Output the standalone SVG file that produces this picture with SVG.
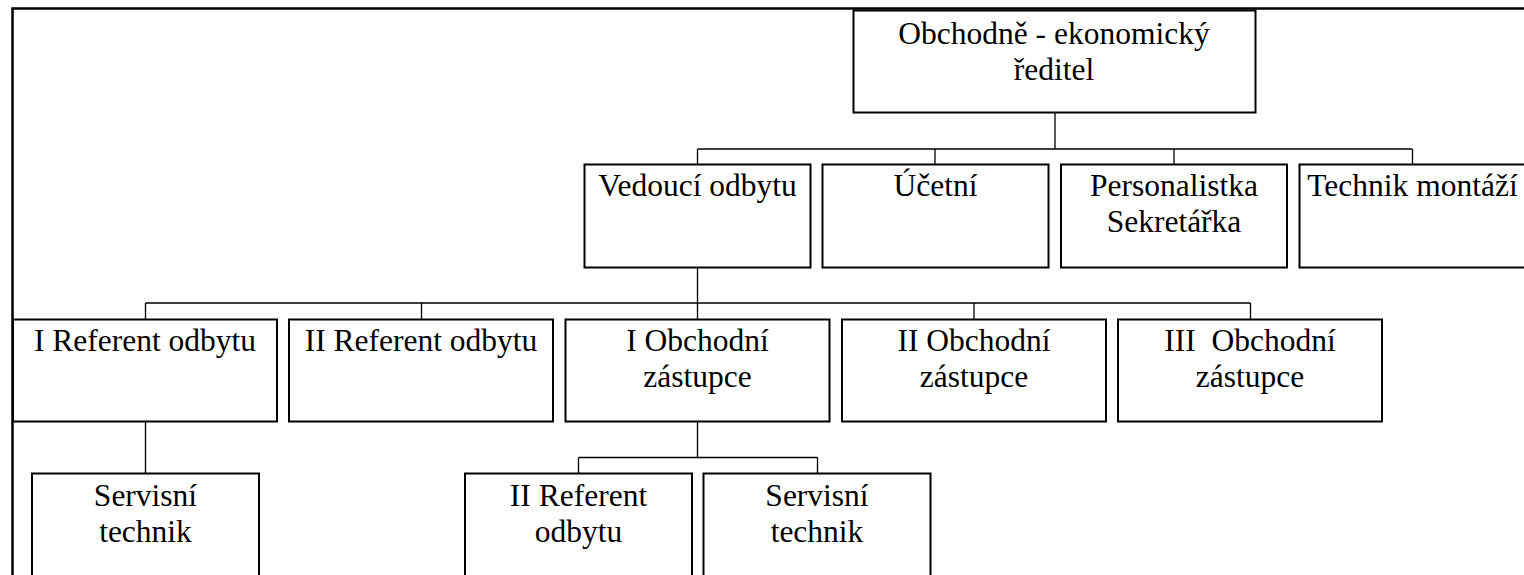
<svg xmlns="http://www.w3.org/2000/svg" width="1524" height="575" viewBox="0 0 1524 575">
<style>
.box{fill:#fff;stroke:#000;stroke-width:2}
.ln{fill:none;stroke:#000;stroke-width:1.3}
.frame{fill:none;stroke:#000;stroke-width:2.5}
text{font-family:"Liberation Serif","Times New Roman",serif;font-size:31.5px;fill:#000;text-anchor:middle}
</style>
<rect x="0" y="0" width="1524" height="575" fill="#fff"/>
<g id="frame"><path class="frame" d="M12.5,575 V8.5 H1524"/></g>
<g id="connectors">
<path class="ln" d="M1055,112 V149 M697.5,149 H1412.5 M697.5,149 V164 M935,149 V164 M1174,149 V164 M1412.5,149 V164"/>
<path class="ln" d="M697.5,267 V303 M145.5,303 H1250.5 M145.5,303 V319 M421.5,303 V319 M697.5,303 V319 M974,303 V319 M1250.5,303 V319"/>
<path class="ln" d="M145.5,421.5 V473.5"/>
<path class="ln" d="M697.5,421.5 V457.5 M578.5,457.5 H817.5 M578.5,457.5 V473.5 M817.5,457.5 V473.5"/>
</g>
<g id="n-reditel"><rect class="box" x="853.5" y="10.5" width="402" height="102"/><text x="1054" y="43.5">Obchodně - ekonomický</text><text x="1054" y="79.5">ředitel</text></g>
<g id="n-vedouci"><rect class="box" x="584.5" y="164.5" width="226" height="103"/><text x="697.5" y="196">Vedoucí odbytu</text></g>
<g id="n-ucetni"><rect class="box" x="822.5" y="164.5" width="226" height="103"/><text x="935.5" y="196">Účetní</text></g>
<g id="n-personal"><rect class="box" x="1061" y="164.5" width="226" height="103"/><text x="1174" y="196">Personalistka</text><text x="1174" y="232">Sekretářka</text></g>
<g id="n-technik"><rect class="box" x="1299.5" y="164.5" width="227" height="103"/><text x="1412.5" y="196">Technik montáží</text></g>
<g id="n-iref"><rect class="box" x="13" y="319.5" width="264" height="102"/><text x="145" y="351">I Referent odbytu</text></g>
<g id="n-iiref"><rect class="box" x="289" y="319.5" width="264" height="102"/><text x="421" y="351">II Referent odbytu</text></g>
<g id="n-iobch"><rect class="box" x="565.5" y="319.5" width="264" height="102"/><text x="697.5" y="351">I Obchodní</text><text x="697.5" y="387">zástupce</text></g>
<g id="n-iiobch"><rect class="box" x="842" y="319.5" width="264" height="102"/><text x="974" y="351">II Obchodní</text><text x="974" y="387">zástupce</text></g>
<g id="n-iiiobch"><rect class="box" x="1118" y="319.5" width="264" height="102"/><text x="1250" y="351" xml:space="preserve">III  Obchodní</text><text x="1250" y="387">zástupce</text></g>
<g id="n-servis1"><rect class="box" x="32" y="473.5" width="227" height="110"/><text x="145.5" y="506">Servisní</text><text x="145.5" y="542">technik</text></g>
<g id="n-iiref2"><rect class="box" x="465" y="473.5" width="227" height="110"/><text x="578.5" y="506">II Referent</text><text x="578.5" y="542">odbytu</text></g>
<g id="n-servis2"><rect class="box" x="703.5" y="473.5" width="227" height="110"/><text x="817" y="506">Servisní</text><text x="817" y="542">technik</text></g>
</svg>
